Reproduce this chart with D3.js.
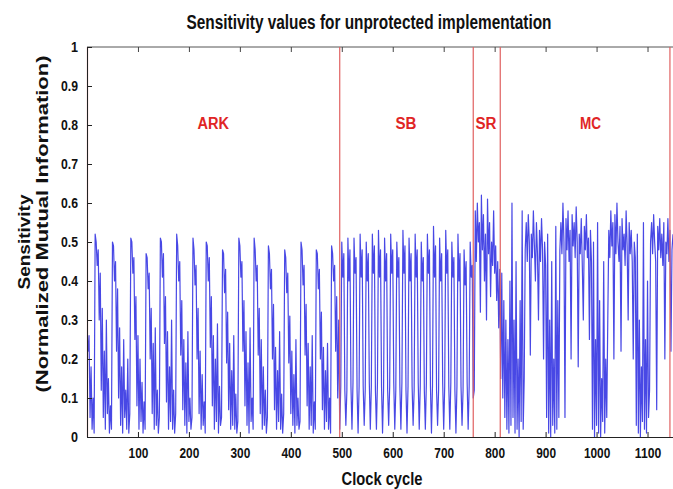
<!DOCTYPE html>
<html><head><meta charset="utf-8">
<script src="https://cdn.jsdelivr.net/npm/d3@7"></script>
<style>body{margin:0;background:#fff}svg{display:block}</style>
</head><body>
<script>
// ---- data (clock cycle step of 2 within each region) ----
const stepCycles = 2;
const arkStart = 0;
const arkValues = [
 0.27,0.22,0.26,0.05,0.18,0.02,0.10,0.01,
 0.52,0.50,0.44,0.48,0.30,0.42,0.12,0.33,0.05,0.22,0.02,0.30,0.06,0.15,0.01,0.08,0.02,
 0.50,0.49,0.40,0.45,0.22,0.38,0.10,0.28,0.03,0.18,0.01,0.25,0.05,0.12,0.02,0.20,0.01,0.06,
 0.51,0.50,0.42,0.46,0.25,0.36,0.08,0.26,0.02,0.20,0.04,0.14,0.01,0.09,0.02,
 0.47,0.46,0.38,0.42,0.20,0.33,0.06,0.24,0.02,0.28,0.03,0.12,0.01,0.05,
 0.51,0.50,0.41,0.47,0.24,0.36,0.09,0.27,0.02,0.18,0.04,0.30,0.02,0.12,0.01,0.06,
 0.52,0.49,0.40,0.45,0.21,0.35,0.07,0.25,0.03,0.19,0.01,0.27,0.04,0.10,0.02,0.05,
 0.51,0.48,0.39,0.44,0.20,0.33,0.06,0.22,0.02,0.16,0.03,0.09,0.01,
 0.50,0.49,0.40,0.46,0.23,0.36,0.08,0.26,0.02,0.20,0.04,0.29,0.01,0.13,0.03,0.05,
 0.48,0.47,0.37,0.43,0.19,0.32,0.07,0.24,0.02,0.17,0.03,0.26,0.02,0.11,0.01,0.04,
 0.51,0.49,0.41,0.45,0.22,0.35,0.08,0.27,0.03,0.19,0.01,0.28,0.04,0.10,0.02,
 0.51,0.48,0.40,0.44,0.21,0.33,0.06,0.25,0.02,0.18,0.03,0.12,0.01,0.05,
 0.49,0.47,0.38,0.43,0.20,0.34,0.07,0.23,0.02,0.17,0.04,0.27,0.02,0.11,0.01,0.06,
 0.48,0.46,0.37,0.42,0.19,0.31,0.06,0.22,0.03,0.16,0.01,0.25,0.03,0.10,0.02,0.04,
 0.50,0.48,0.39,0.44,0.21,0.34,0.08,0.24,0.02,0.18,0.03,0.26,0.01,0.09,0.02,
 0.48,0.47,0.38,0.43,0.20,0.32,0.07,0.23,0.02,0.17,0.04,0.24,0.02,0.10,0.01,
 0.49,0.47,0.40,0.44,0.22,0.36,0.10,0.30
];
const sbStart = 496;
const sbValues = [
 0.02,0.13,0.50,0.41,0.47,0.12, 0.03,0.12,0.51,0.40,0.48,0.13, 0.02,0.14,0.51,0.42,0.46,0.12,
 0.01,0.13,0.52,0.41,0.48,0.13, 0.03,0.12,0.50,0.40,0.47,0.14, 0.02,0.13,0.52,0.42,0.49,0.12,
 0.02,0.14,0.53,0.41,0.48,0.13, 0.01,0.12,0.51,0.40,0.47,0.12, 0.03,0.13,0.52,0.42,0.48,0.14,
 0.02,0.12,0.50,0.41,0.46,0.13, 0.02,0.14,0.53,0.42,0.49,0.12, 0.01,0.13,0.51,0.40,0.47,0.13,
 0.03,0.12,0.52,0.41,0.48,0.14, 0.02,0.13,0.50,0.40,0.46,0.12, 0.02,0.14,0.52,0.42,0.48,0.13,
 0.01,0.13,0.54,0.41,0.49,0.12, 0.03,0.12,0.51,0.40,0.47,0.14, 0.02,0.13,0.53,0.42,0.48,0.13,
 0.02,0.14,0.50,0.41,0.46,0.12, 0.01,0.13,0.52,0.40,0.47,0.13, 0.03,0.12,0.48,0.39,0.45,0.14,
 0.02,0.13,0.50,0.41,0.44,0.10
];
const srStart = 760;
const srValues = [0.12,0.58,0.45,0.60,0.50,0.55,0.32,0.62,0.48,0.57,0.40,0.52,0.30,0.61,
 0.47,0.55,0.36,0.50,0.44,0.58,0.42,0.49,0.35,0.45,0.28,0.43,0.15];
const mcStart = 814;
const mcValues = [
 0.42,0.10,0.35,0.05,0.30,
 0.02,0.25,0.01,0.40,0.03,0.60,0.05,0.30,0.01,0.45,0.02,0.20,0.00,0.35,0.04,0.58,0.02,0.15,
 0.48,0.55,0.45,0.57,0.50,0.21,0.52,0.46,0.58,0.49,0.40,0.55,0.47,0.30,0.53,0.45,0.56,0.48,0.20,0.50,0.44,
 0.05,0.52,0.01,0.30,0.00,0.45,0.03,0.20,0.01,0.54,0.02,0.35,0.05,0.48,
 0.55,0.47,0.60,0.50,0.05,0.56,0.48,0.58,0.45,0.53,0.20,0.57,0.49,0.55,0.46,0.59,0.50,0.18,0.52,0.47,
 0.56,0.44,0.30,0.54,0.48,0.57,0.46,0.51,0.25,0.53,0.45,
 0.02,0.50,0.00,0.25,0.03,0.55,0.01,0.35,0.00,0.15,0.04,0.45,0.01,0.20,0.05,0.30,
 0.53,0.46,0.58,0.49,0.55,0.20,0.57,0.47,0.60,0.50,0.45,0.54,0.22,0.56,0.48,0.52,0.44,0.58,0.49,
 0.30,0.55,0.47,0.53,0.45,0.20,0.50,0.46,
 0.03,0.52,0.01,0.30,0.00,0.18,0.04,0.55,0.02,0.25,0.01,0.40,0.05,0.12,0.50,
 0.55,0.47,0.57,0.50,0.45,0.07,0.54,0.48,0.56,0.46,0.52,0.44,0.55,0.20,0.50,0.47,0.56,0.45,0.53,0.22,0.48,0.52
];
const phaseBounds = [0, 495, 757, 810, 1143];
const phaseNames = ["ARK", "SB", "SR", "MC"];
const phaseLabelCycles = [248, 626, 783, 988];
const xTicks = [100,200,300,400,500,600,700,800,900,1000,1100];
const yTicks = [0,0.1,0.2,0.3,0.4,0.5,0.6,0.7,0.8,0.9,1];
const titleText = "Sensitivity values for unprotected implementation";
const xLabel = "Clock cycle";
const yLabel1 = "Sensitivity";
const yLabel2 = "(Normalized Mutual Information)";

// ---- chart ----
const W = 673, H = 489;
const x = d3.scaleLinear().domain([0, 1150]).range([87, 673]);
const y = d3.scaleLinear().domain([0, 1]).range([437, 47]);
const svg = d3.select("body").append("svg").attr("width", W).attr("height", H);
const font = "'Liberation Sans',Arial,sans-serif";

svg.append("defs").append("clipPath").attr("id","clip")
  .append("rect").attr("x",87).attr("y",40).attr("width",586).attr("height",398);

const pts = [];
[[arkStart,arkValues],[sbStart,sbValues],[srStart,srValues],[mcStart,mcValues]].forEach(([s,vals])=>{
  vals.forEach((v,i)=>pts.push([s + stepCycles*i, v]));
});

svg.append("path").attr("clip-path","url(#clip)")
  .datum(pts)
  .attr("d", d3.line().x(d=>x(d[0])).y(d=>y(d[1])))
  .attr("fill","none").attr("stroke","#1a1ade").attr("stroke-opacity",0.8).attr("stroke-width",1.2)
  .attr("stroke-linejoin","round");

// top frame line
svg.append("line").attr("x1",x(0)).attr("x2",673).attr("y1",y(1)).attr("y2",y(1))
  .attr("stroke","#555").attr("stroke-width",1);
const topAx = svg.append("g").attr("transform",`translate(0,${y(1)})`)
  .call(d3.axisTop(x).tickValues(xTicks).tickSize(-5).tickFormat(""));
topAx.select(".domain").remove();
topAx.selectAll("line").attr("stroke","#444");

// phase boundaries
svg.append("g").selectAll("line").data(phaseBounds).join("line")
  .attr("x1",d=>x(d)+0.5).attr("x2",d=>x(d)+0.5).attr("y1",y(1)).attr("y2",y(0))
  .attr("stroke","#e06060").attr("stroke-width",1.2);

// x axis
const xAx = svg.append("g").attr("transform",`translate(0,${y(0)})`)
  .call(d3.axisBottom(x).tickValues(xTicks).tickSize(-5).tickPadding(11).tickFormat(d3.format("d")));
xAx.select(".domain").attr("stroke","#222");
xAx.selectAll("line").attr("stroke","#222");
xAx.selectAll("text").attr("font-family",font).attr("font-weight","bold").attr("font-size",14).attr("fill","#111")
  .attr("textLength",function(){return this.textContent.length*6.6;}).attr("lengthAdjust","spacingAndGlyphs");

// y axis
const yAx = svg.append("g").attr("transform",`translate(${x(0)},0)`)
  .call(d3.axisLeft(y).tickValues(yTicks).tickSize(-5).tickPadding(9).tickFormat(d=>d===0||d===1?d3.format("d")(d):d3.format(".1f")(d)));
yAx.select(".domain").attr("stroke","#222");
yAx.selectAll("line").attr("stroke","#222");
yAx.selectAll("text").attr("font-family",font).attr("font-weight","bold").attr("font-size",14).attr("fill","#111")
  .attr("textLength",function(){const n=this.textContent.length;return n===1?7:17;}).attr("lengthAdjust","spacingAndGlyphs");

// phase labels
svg.append("g").selectAll("text").data(phaseNames).join("text")
  .attr("x",(d,i)=>x(phaseLabelCycles[i])).attr("y",y(0.79))
  .attr("text-anchor","middle").attr("font-family",font).attr("font-weight","bold")
  .attr("font-size",16).attr("fill","#e02525")
  .attr("textLength",d=>d.length*10.5).attr("lengthAdjust","spacingAndGlyphs").text(d=>d);

// title (condensed by horizontal scaling)
svg.append("text").attr("transform","translate(369,29) scale(0.77,1)").attr("text-anchor","middle")
  .attr("font-family",font).attr("font-weight","bold").attr("font-size",20)
  .attr("fill","#111").text(titleText);

// x label
svg.append("text").attr("x",382).attr("y",485).attr("text-anchor","middle")
  .attr("font-family",font).attr("font-weight","bold").attr("font-size",18)
  .attr("textLength",81).attr("lengthAdjust","spacingAndGlyphs")
  .attr("fill","#111").text(xLabel);

// y labels
svg.append("text").attr("transform","translate(30,242) rotate(-90)").attr("text-anchor","middle")
  .attr("font-family",font).attr("font-weight","bold").attr("font-size",17)
  .attr("textLength",95).attr("lengthAdjust","spacingAndGlyphs")
  .attr("fill","#111").text(yLabel1);
svg.append("text").attr("transform","translate(48,224) rotate(-90)").attr("text-anchor","middle")
  .attr("font-family",font).attr("font-weight","bold").attr("font-size",17)
  .attr("textLength",337).attr("lengthAdjust","spacingAndGlyphs")
  .attr("fill","#111").text(yLabel2);
</script>
</body></html>
